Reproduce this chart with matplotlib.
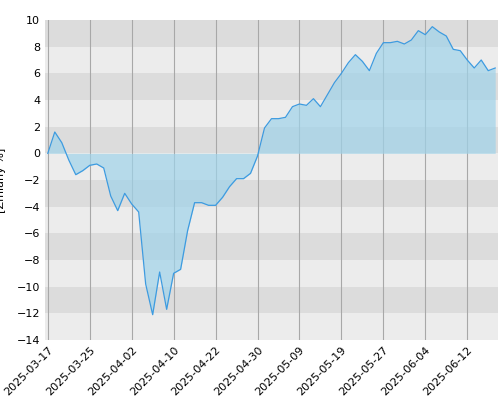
import numpy as np
import matplotlib
matplotlib.use('Agg')
import matplotlib.pyplot as plt

# daily change in % (trading-day index)
values = [0, 1.6, 0.8, -0.5, -1.6, -1.3, -0.9, -0.8, -1.1, -3.2,
          -4.3, -3.0, -3.8, -4.4, -9.8, -12.1, -8.9, -11.7, -9.0, -8.7,
          -5.8, -3.7, -3.7, -3.9, -3.9, -3.3, -2.5, -1.9, -1.9, -1.5,
          -0.2, 1.9, 2.6, 2.6, 2.7, 3.5, 3.7, 3.6, 4.1, 3.5,
          4.4, 5.3, 6.0, 6.8, 7.4, 6.9, 6.2, 7.5, 8.3, 8.3,
          8.4, 8.2, 8.5, 9.2, 8.9, 9.5, 9.1, 8.8, 7.8, 7.7,
          7.0, 6.4, 7.0, 6.2, 6.4]
tick_labels = ['2025-03-17', '2025-03-25', '2025-04-02', '2025-04-10', '2025-04-22',
               '2025-04-30', '2025-05-09', '2025-05-19', '2025-05-27', '2025-06-04',
               '2025-06-12']
tick_pos = [i * 6 for i in range(len(tick_labels))]

x = np.arange(len(values))
y = np.array(values)

fig = plt.figure(figsize=(5, 4), dpi=100)
ax = fig.add_axes([0.09, 0.15, 0.906, 0.80])

xmin, xmax = -0.4, len(values) - 0.6
for lo in range(-14, 10, 2):
    c = '#dcdcdc' if (lo // 2) % 2 == 0 else '#ececec'
    ax.axhspan(lo, lo + 2, color=c, zorder=0, lw=0)
for p in tick_pos:
    ax.axvline(p, color='#a8a8a8', lw=0.8, zorder=1)

ax.fill_between(x, y, 0, color='#9fd3ea', alpha=0.7, zorder=2, lw=0)
ax.plot(x, y, color='#3d9be0', lw=0.9, zorder=3)

ax.set_xlim(xmin, xmax)
ax.set_ylim(-14, 10)
ax.set_yticks(range(-14, 11, 2))
ax.set_xticks(tick_pos)
ax.set_xticklabels(tick_labels, rotation=45, ha='right', rotation_mode='anchor')
ax.tick_params(labelsize=8, length=0)
ax.set_ylabel('[Zmiany %]', fontsize=8, labelpad=8)
for s in ax.spines.values():
    s.set_visible(False)

fig.savefig('out.png', dpi=100)
